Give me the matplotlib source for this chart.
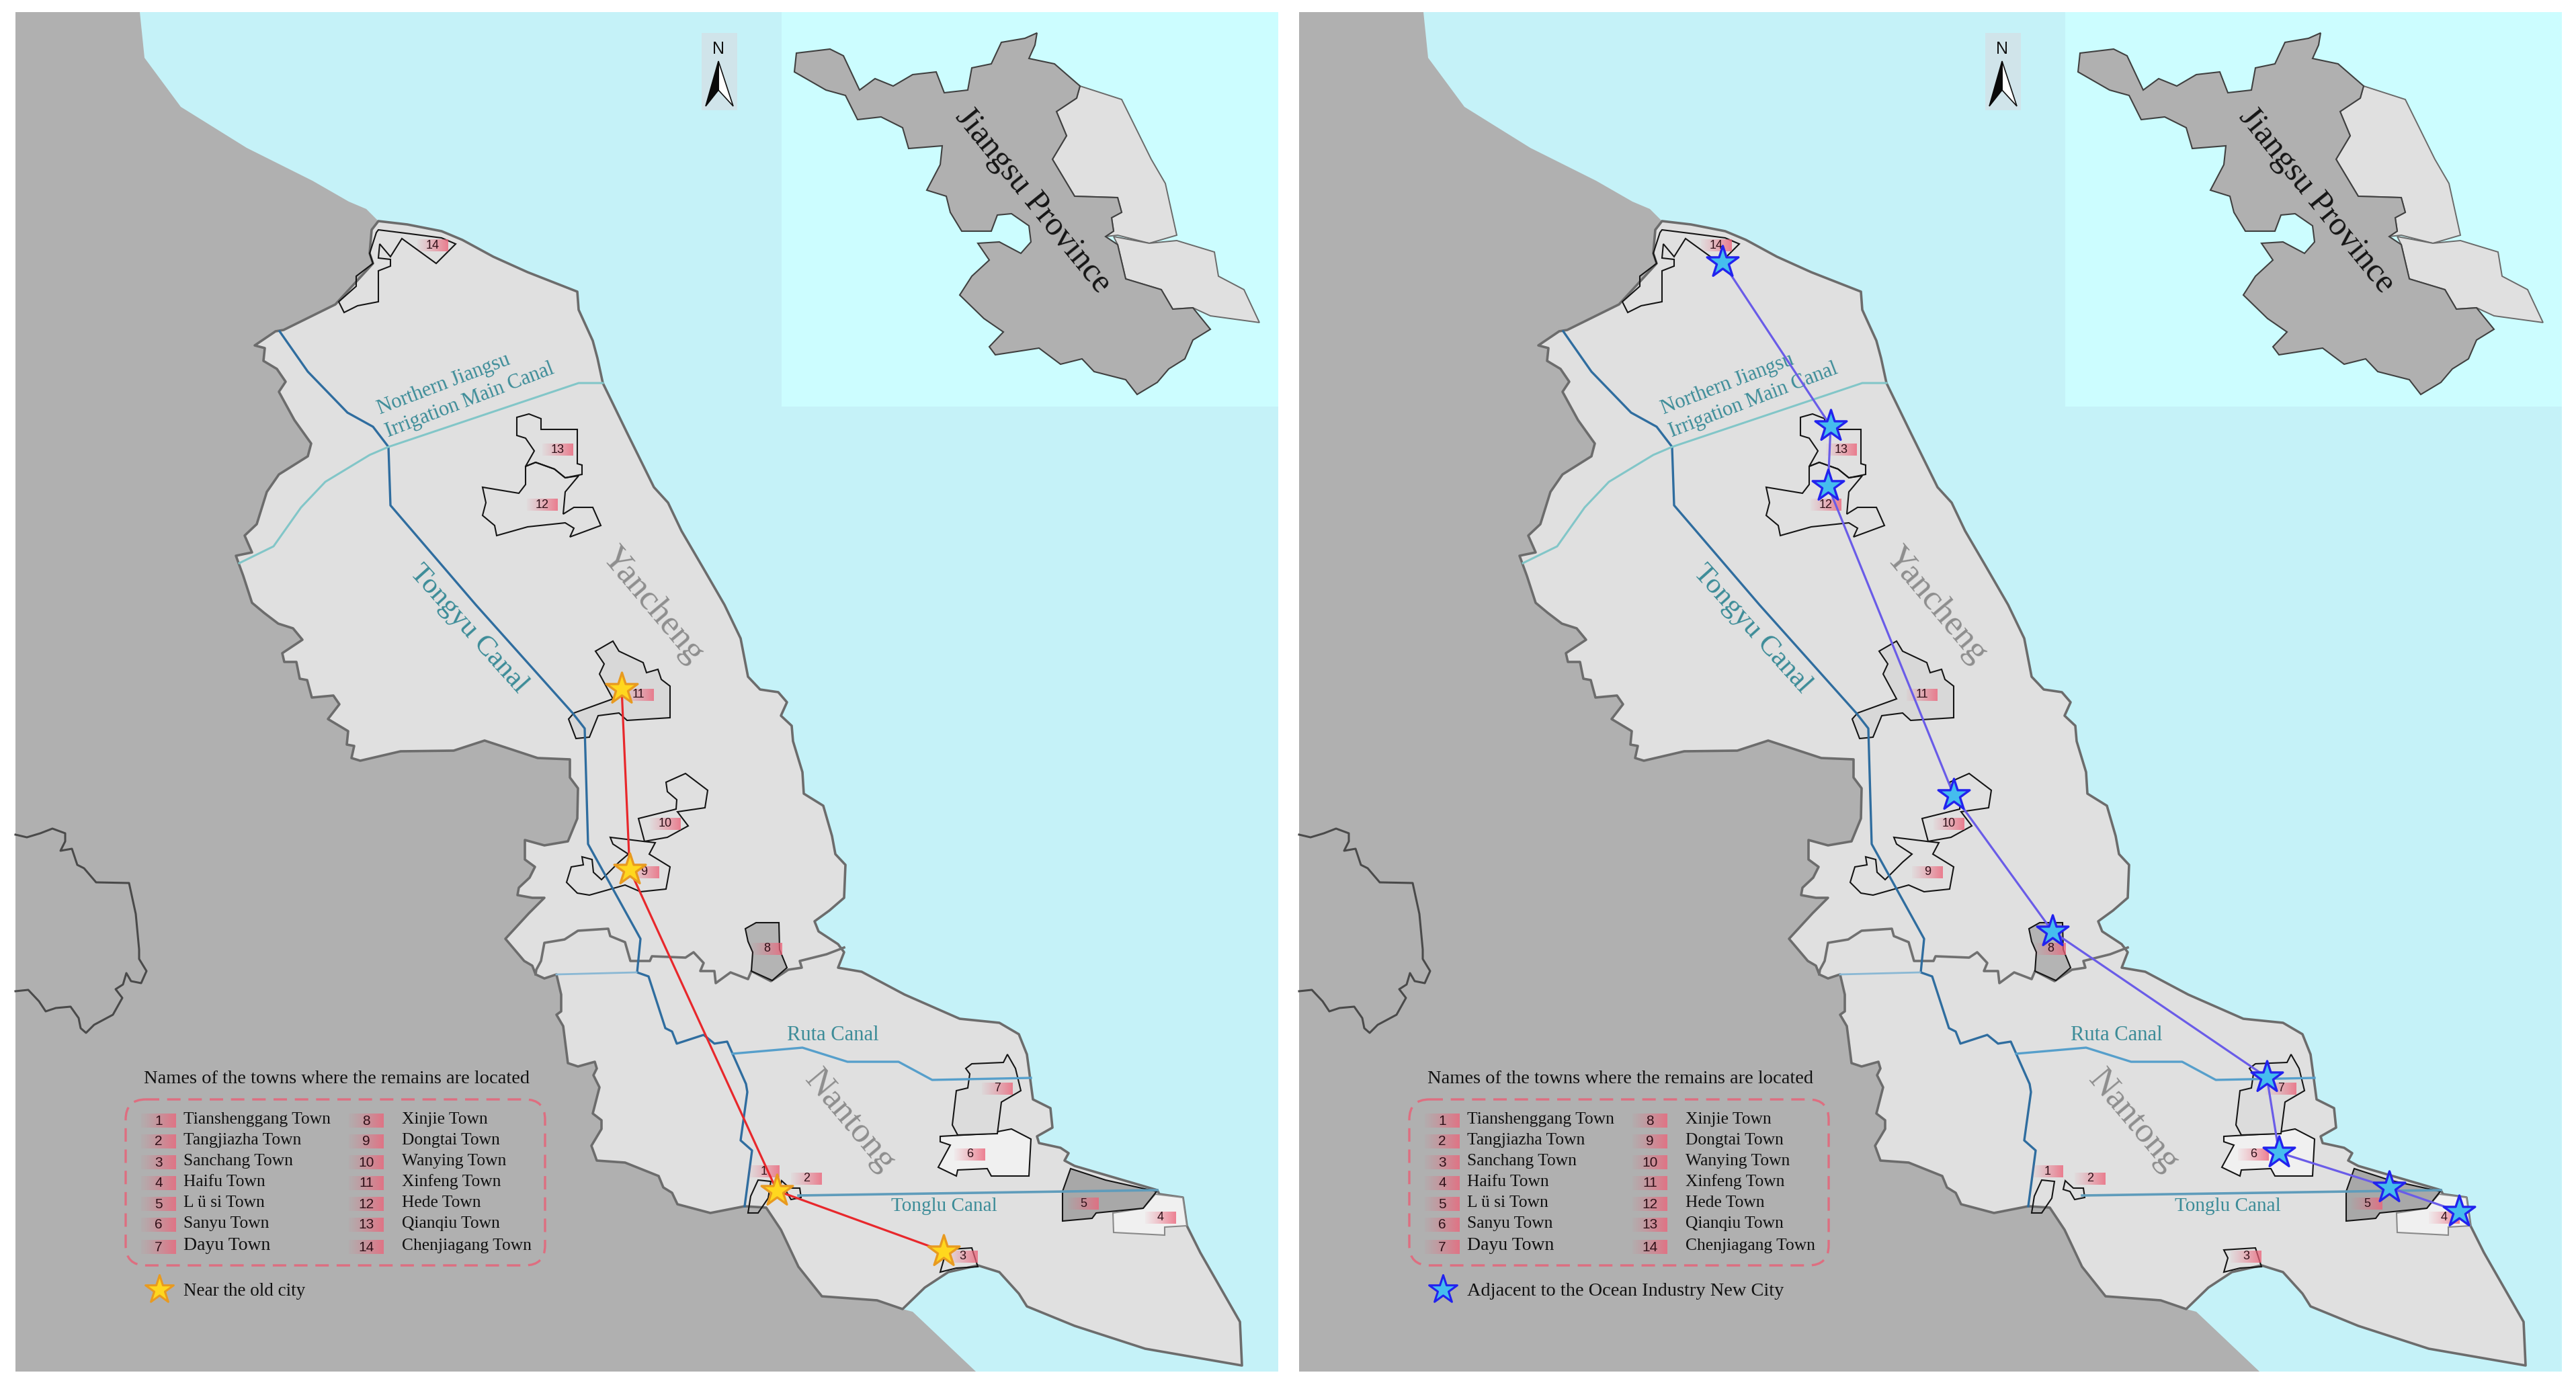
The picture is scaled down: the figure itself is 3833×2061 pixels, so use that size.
import numpy as np
import matplotlib
matplotlib.use("Agg")
import matplotlib.pyplot as plt
from matplotlib.patches import Polygon, Rectangle, FancyBboxPatch

# everything is in image pixels of the left panel, the right panel is shifted by PANEL_SHIFT
W, H = 3833, 2061
PANEL_SHIFT = 1910

west_land = [(23,18),(208,18),(215,86),(269,159),(367,220),(465,269),(519,300),(545,311),(563,329),
             (1100,1700),(1343,1948),(1358,1952),(1452,2041),(23,2041)]

region = [(563,329),(606,334),(657,344),(688,357),(734,382),(785,405),(859,434),(861,461),(882,507),(889,533),
          (897,570),(933,644),(973,725),(994,748),(1014,790),(1045,843),(1078,900),(1102,950),(1113,1007),(1131,1026),
          (1158,1030),(1171,1045),(1162,1065),(1178,1080),(1180,1103),(1194,1149),(1196,1181),(1225,1199),(1238,1244),
          (1243,1271),(1258,1287),(1256,1336),(1234,1355),(1212,1371),(1218,1386),(1247,1405),(1256,1417),(1247,1440),
          (1282,1446),(1346,1480),(1428,1516),(1487,1522),(1516,1539),(1528,1569),(1537,1636),(1563,1649),(1566,1678),
          (1543,1691),(1546,1701),(1578,1708),(1590,1716),(1584,1727),(1599,1735),(1722,1771),(1725,1777),(1760,1782),
          (1766,1824),(1786,1864),(1845,1967),(1848,2032),(1704,2007),(1599,1973),(1528,1944),(1516,1925),(1487,1893),
          (1455,1883),(1411,1893),(1376,1916),(1343,1948),(1305,1935),(1223,1929),(1188,1885),(1162,1830),(1140,1797),
          (1108,1795),(1057,1805),(1008,1792),(1000,1775),(987,1767),(980,1750),(930,1730),(888,1727),(880,1705),
          (895,1680),(895,1667),(882,1657),(892,1618),(883,1600),(888,1590),(885,1580),(860,1587),(845,1582),(838,1527),
          (828,1510),(835,1505),(835,1480),(828,1450),(810,1456),(797,1450),(792,1437),(780,1430),(752,1397),(787,1359),
          (810,1336),(792,1336),(770,1332),(772,1321),(788,1306),(796,1290),(781,1279),(781,1250),(810,1258),(845,1252),
          (859,1218),(860,1173),(848,1157),(848,1130),(800,1128),(721,1102),(675,1117),(596,1118),(536,1132),(523,1128),
          (527,1110),(516,1108),(518,1088),(488,1070),(505,1048),(496,1035),(464,1038),(457,1012),(446,1010),(441,985),
          (423,985),(420,972),(450,952),(436,935),(414,928),(393,912),(375,897),(362,857),(351,827),(375,822),(364,797),
          (382,780),(397,732),(415,706),(458,679),(463,660),(438,625),(415,583),(425,568),(412,549),(392,537),(394,518),
          (379,514),(410,493),(422,491),(499,453),(555,392),(550,377),(553,342)]

city_border = [(797,1450),(798,1443),(805,1430),(810,1403),(840,1398),(860,1385),(905,1382),(908,1393),(930,1402),
               (938,1430),(967,1430),(970,1423),(1020,1425),(1032,1417),(1047,1433),(1042,1445),(1063,1445),(1065,1463),
               (1087,1447),(1113,1457),(1118,1445),(1147,1460),(1173,1443),(1193,1440),(1190,1430),(1230,1420),(1256,1410)]

far_border = [(23,1242),(40,1246),(60,1240),(78,1233),(97,1240),(97,1252),(90,1266),(107,1263),(115,1287),(125,1292),
              (143,1313),(192,1314),(202,1360),(207,1413),(207,1427),(218,1445),(210,1463),(195,1460),(188,1448),(183,1465),
              (172,1472),(182,1485),(168,1510),(140,1525),(128,1537),(120,1530),(117,1515),(105,1498),(83,1500),(68,1505),
              (58,1490),(42,1473),(23,1475)]

tongyu_canal = [(416,493),(458,553),(517,614),(555,635),(578,665),(581,752),(708,900),(852,1061),(870,1084),(875,1256),
                (953,1397),(948,1447),(965,1453),(990,1530),(1000,1535),(1007,1553),(1047,1540),(1063,1553),(1082,1550),
                (1110,1613),(1112,1625),(1102,1697),(1119,1712),(1108,1795)]
irrigation_canal = [(356,838),(407,813),(448,755),(484,717),(550,677),(578,665),(861,570),(897,570)]
ruta_canal = [(1090,1568),(1194,1559),(1261,1580),(1337,1580),(1387,1607),(1534,1604)]
ruta_west = [(828,1450),(947,1447)]
tonglu_canal = [(1188,1779),(1587,1773),(1722,1771)]

town_shapes = {
    1: [(1128,1756),(1147,1758),(1143,1783),(1128,1805),(1113,1805),(1117,1780)],
    2: [(1163,1757),(1175,1768),(1190,1768),(1192,1782),(1177,1785),(1170,1773),(1160,1770)],
    3: [(1399,1860),(1446,1857),(1455,1885),(1423,1887),(1399,1893),(1405,1872)],
    4: [(1719,1777),(1760,1782),(1766,1824),(1733,1826),(1733,1838),(1657,1834),(1656,1805),(1701,1798)],
    5: [(1593,1739),(1645,1756),(1721,1773),(1701,1798),(1631,1805),(1625,1813),(1581,1817),(1581,1773)],
    6: [(1399,1691),(1469,1687),(1505,1680),(1534,1695),(1531,1750),(1475,1750),(1469,1739),(1425,1741),(1423,1750),
        (1396,1737),(1414,1704),(1399,1699)],
    7: [(1437,1590),(1446,1583),(1493,1581),(1499,1569),(1511,1590),(1519,1623),(1490,1640),(1484,1687),(1425,1689),
        (1417,1674),(1423,1623),(1440,1619),(1443,1598)],
    8: [(1109,1382),(1125,1373),(1159,1373),(1160,1413),(1171,1440),(1149,1459),(1118,1445),(1120,1417),(1113,1401)],
    9: [(908,1246),(957,1252),(975,1254),(966,1271),(997,1290),(991,1323),(953,1327),(930,1317),(877,1332),(859,1329),
        (843,1313),(850,1290),(868,1287),(866,1275),(881,1279),(883,1298),(895,1309),(921,1283),(935,1271),(912,1256)],
    10: [(991,1164),(1020,1151),(1053,1176),(1049,1202),(1008,1208),(1024,1229),(993,1246),(959,1252),(950,1218),
         (1006,1204),(1007,1190),(993,1178)],
    11: [(886,969),(912,954),(921,969),(957,986),(962,1001),(979,996),(984,1011),(997,1021),(997,1068),(933,1072),
         (921,1061),(890,1065),(877,1097),(857,1099),(846,1070),(854,1061),(912,1040),(892,1003),(899,988)],
    12: [(782,694),(797,688),(825,698),(841,711),(861,708),(841,732),(838,765),(854,755),(882,755),(894,782),(848,799),
         (854,786),(841,778),(785,784),(739,797),(736,782),(718,767),(723,748),(718,725),(772,734),(782,721)],
    13: [(769,621),(787,616),(805,623),(805,639),(859,639),(859,690),(866,692),(866,706),(841,711),(825,698),(797,688),
         (782,694),(795,671),(782,652),(769,648)],
    14: [(563,342),(611,348),(657,354),(678,363),(649,392),(598,355),(581,382),(565,363),(563,384),(581,386),(581,396),
         (563,403),(563,449),(532,455),(512,465),(504,449),(530,426),(530,411),(555,392),(550,377),(560,346)],
}
town_label_xy = {1:(1137,1743),2:(1200,1754),3:(1432,1870),4:(1727,1812),5:(1612,1791),6:(1443,1718),7:(1484,1620),
                 8:(1141,1412),9:(958,1298),10:(990,1226),11:(950,1034),12:(807,751),13:(830,669),14:(644,365)}
town_names = ["Tianshenggang Town","Tangjiazha Town","Sanchang Town","Haifu Town","L ü si Town","Sanyu Town","Dayu Town",
              "Xinjie Town","Dongtai Town","Wanying Town","Xinfeng Town","Hede Town","Qianqiu Town","Chenjiagang Town"]
legend_rows_y = [1666,1697,1728,1759,1790,1821,1854]

old_city_stars = [(925,1025),(937,1294),(1156,1772),(1404,1862)]
ocean_city_stars = [(653,390),(814,634),(810,723),(997,1183),(1144,1386),(1463,1603),(1481,1715),(1645,1767),(1749,1803)]

jiangsu_dark = [(1185,79),(1235,73),(1255,83),(1279,134),(1302,117),(1329,128),(1358,111),(1393,107),(1405,138),(1440,134),
                (1446,101),(1475,95),(1490,63),(1525,57),(1543,49),(1540,67),(1531,87),(1569,95),(1607,128),(1602,146),
                (1572,166),(1587,202),(1566,237),(1599,292),(1663,294),(1669,316),(1654,324),(1657,344),(1645,352),(1663,364),
                (1675,415),(1728,431),(1745,460),(1775,458),(1801,490),(1775,506),(1763,534),(1739,549),(1722,569),(1692,587),
                (1675,565),(1628,553),(1610,534),(1578,542),(1546,518),(1481,528),(1472,516),(1493,494),(1464,474),(1428,439),
                (1446,411),(1472,387),(1455,362),(1487,360),(1519,377),(1534,360),(1531,336),(1505,318),(1484,320),(1475,344),
                (1431,344),(1414,316),(1408,292),(1379,283),(1399,245),(1402,217),(1352,221),(1343,190),(1311,174),(1276,178),
                (1258,142),(1229,134),(1182,107)]
jiangsu_yancheng = [(1607,128),(1669,148),(1713,237),(1734,273),(1751,350),(1710,362),(1663,350),(1645,352),(1657,344),
                    (1654,324),(1669,316),(1663,294),(1599,292),(1566,237),(1587,202),(1572,166),(1602,146)]
jiangsu_nantong = [(1657,352),(1710,362),(1751,358),(1807,375),(1813,411),(1851,431),(1874,480),(1801,470),(1775,458),
                   (1745,460),(1728,431),(1675,415),(1663,364)]

north_arrow_left = [(1069,91),(1050,158),(1069,134)]
north_arrow_right = [(1069,91),(1091,158),(1069,134)]

SERIF = "Liberation Serif"
SANS = "Liberation Sans"
SEA = "#c5f2f8"
INSET = "#ccfdff"
GREY_LAND = "#b0b0b0"
LAND = "#e0e0e0"
CANAL_TEXT = "#3c8c98"

town_fill = {4:"#f0f0f0", 5:"#a8a8a8", 6:"#f0f0f0", 7:"#dcdcdc", 8:"#b4b4b4", 11:"#d8d8d8"}

fig = plt.figure(figsize=(W/100, H/100), dpi=100, facecolor="white")
ax = fig.add_axes([0, 0, 1, 1])

pink = np.zeros((1, 32, 4))
pink[..., 0] = 236/255
pink[..., 1] = 100/255
pink[..., 2] = 122/255
pink[..., 3] = np.linspace(0.08, 0.82, 32)**1.2


def moved(points, dx):
    return [(x+dx, y) for x, y in points]


def pink_label(cx, cy, w, h, num, dx, size=13):
    ax.imshow(pink, extent=(cx+dx-w/2, cx+dx+w/2, cy+h/2, cy-h/2), aspect="auto", interpolation="bilinear", zorder=6)
    ax.text(cx+dx, cy, str(num), family=SANS, fontsize=size, color="#301018", ha="center", va="center", zorder=7)


def draw_panel(dx, stars, line_color, star_face, star_edge, legend_text, legend_size):
    ax.add_patch(Rectangle((23+dx, 18), 1879, 2023, fc=SEA, ec="none", zorder=0))
    ax.add_patch(Polygon(moved(west_land, dx), fc=GREY_LAND, ec="none", zorder=1))
    ax.plot(*zip(*moved(far_border, dx)), color="#4a4a4a", lw=2.2, zorder=2)
    ax.add_patch(Polygon(moved(region, dx), fc=LAND, ec="#6c6c6c", lw=2.6, joinstyle="round", zorder=2))
    ax.plot(*zip(*moved(city_border, dx)), color="#707070", lw=2.6, zorder=3)

    for num, shape in town_shapes.items():
        ec = "#8a8a8a" if num == 4 else "#151515"
        ax.add_patch(Polygon(moved(shape, dx), fc=town_fill.get(num, "none"), ec=ec, lw=1.5, zorder=4))

    ax.plot(*zip(*moved(tongyu_canal, dx)), color="#2f6d9f", lw=2.4, zorder=5)
    ax.plot(*zip(*moved(irrigation_canal, dx)), color="#82c6c8", lw=2.2, zorder=5)
    ax.plot(*zip(*moved(ruta_canal, dx)), color="#569fcb", lw=2.4, zorder=5)
    ax.plot(*zip(*moved(ruta_west, dx)), color="#8ab8d4", lw=2.0, zorder=5)
    ax.plot(*zip(*moved(tonglu_canal, dx)), color="#5f9cbb", lw=2.6, zorder=5)

    for num, (cx, cy) in town_label_xy.items():
        pink_label(cx, cy, 46, 18, num, dx)

    # links between the remains and the stars
    ax.plot(*zip(*moved(stars, dx)), color=line_color, lw=2.3, zorder=8)
    xs, ys = zip(*moved(stars, dx))
    ax.scatter(xs, ys, marker="*", s=1250, fc=star_face, ec=star_edge, lw=2.4, zorder=9)

    # inset map
    ax.add_patch(Rectangle((1163+dx, 18), 739, 587, fc=INSET, ec="none", zorder=3))
    ax.add_patch(Polygon(moved(jiangsu_yancheng, dx), fc=LAND, ec="#6a6a6a", lw=1.4, zorder=4))
    ax.add_patch(Polygon(moved(jiangsu_nantong, dx), fc=LAND, ec="#6a6a6a", lw=1.4, zorder=4))
    ax.add_patch(Polygon(moved(jiangsu_dark, dx), fc="#b0b0b0", ec="#404040", lw=1.5, zorder=5))
    ax.text(1537+dx, 298, "Jiangsu Province", family=SERIF, fontsize=36, rotation=-51, rotation_mode="anchor",
            ha="center", va="center", color="#151515", zorder=6)

    # north arrow
    ax.add_patch(Rectangle((1044+dx, 49), 53, 115, fc="#d0e4ea", ec="none", zorder=3))
    ax.text(1069+dx, 73, "N", family=SANS, fontsize=18, ha="center", va="center", color="#111111", zorder=4)
    ax.add_patch(Polygon(moved(north_arrow_right, dx), fc="white", ec="#111111", lw=1.2, zorder=4))
    ax.add_patch(Polygon(moved(north_arrow_left, dx), fc="#0a0a0a", ec="#0a0a0a", lw=1.2, zorder=4))

    # map names
    ax.text(971+dx, 900, "Yancheng", family=SERIF, fontsize=38, color="#8e8e8e", rotation=-50, rotation_mode="anchor",
            ha="center", va="center", zorder=6)
    ax.text(1264+dx, 1668, "Nantong", family=SERIF, fontsize=38, color="#8e8e8e", rotation=-50, rotation_mode="anchor",
            ha="center", va="center", zorder=6)
    ax.text(697+dx, 936, "Tongyu Canal", family=SERIF, fontsize=31, color=CANAL_TEXT, rotation=-48, rotation_mode="anchor",
            ha="center", va="center", zorder=6)
    ax.text(660+dx, 572, "Northern Jiangsu", family=SERIF, fontsize=22, color=CANAL_TEXT, rotation=21, rotation_mode="anchor",
            ha="center", va="center", zorder=6)
    ax.text(699+dx, 596, "Irrigation Main Canal", family=SERIF, fontsize=22, color=CANAL_TEXT, rotation=21,
            rotation_mode="anchor", ha="center", va="center", zorder=6)
    ax.text(1239+dx, 1541, "Ruta Canal", family=SERIF, fontsize=22, color=CANAL_TEXT, ha="center", va="center", zorder=6)
    ax.text(1405+dx, 1795, "Tonglu Canal", family=SERIF, fontsize=21, color=CANAL_TEXT, ha="center", va="center", zorder=6)

    # legend
    ax.text(501+dx, 1605, "Names of the towns where the remains are located", family=SERIF, fontsize=20.5, color="#111111",
            ha="center", va="center", zorder=6)
    ax.add_patch(FancyBboxPatch((187+dx, 1636), 624, 247, boxstyle="round,pad=0,rounding_size=30", fc="none",
                                ec="#de6e80", lw=2.4, ls=(0, (6, 3.5)), zorder=6))
    for i, name in enumerate(town_names):
        row = legend_rows_y[i % 7]
        box_x, text_x = (236, 273) if i < 7 else (545, 598)
        pink_label(box_x, row+2, 52, 21, i+1, dx, size=15)
        size = 20 if name == "Dayu Town" else 18.4
        ax.text(text_x+dx, row, name, family=SERIF, fontsize=size, color="#111111", ha="left", va="center", zorder=7)
    ax.scatter([237+dx], [1919], marker="*", s=1000, fc=star_face, ec=star_edge, lw=2.2, zorder=9)
    ax.text(273+dx, 1921, legend_text, family=SERIF, fontsize=legend_size, color="#111111", ha="left", va="center", zorder=7)


draw_panel(0, old_city_stars, "#e8282c", "#ffd71e", "#e89a20", "Near the old city", 19.5)
draw_panel(PANEL_SHIFT, ocean_city_stars, "#6a5ce8", "#45bdee", "#2222ee", "Adjacent to the Ocean Industry New City", 20.4)

ax.set_xlim(0, W)
ax.set_ylim(H, 0)
ax.axis("off")
fig.savefig("out.png", dpi=100, facecolor="white")
